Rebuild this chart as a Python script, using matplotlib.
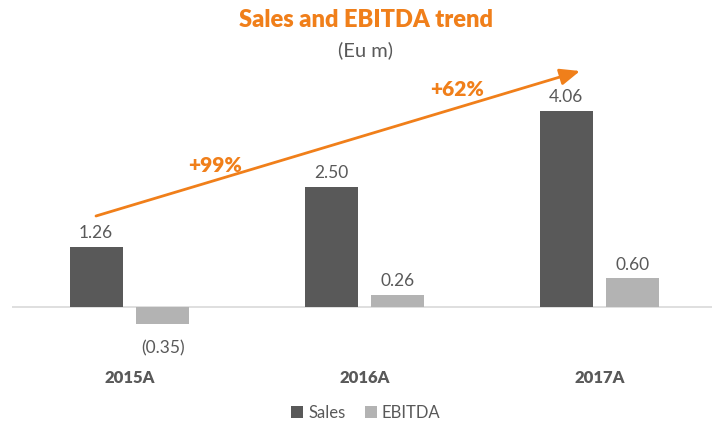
import matplotlib.pyplot as plt
import numpy as np

years = ["2015A", "2016A", "2017A"]
sales = [1.26, 2.50, 4.06]
ebitda = [-0.35, 0.26, 0.60]
growth_labels = ["+99%", "+62%"]

ORANGE = "#F07F1A"
DARK = "#595959"
LIGHT = "#B3B3B3"
TXT = "#595959"

plt.rcParams['font.family'] = ['Lato', 'DejaVu Sans']

fig = plt.figure(figsize=(7.12, 4.26), dpi=100)
# axes: x px 12..717, y px 90..340 (from top)
ax = fig.add_axes([12 / 712, (426 - 340) / 426, 705 / 712, 250 / 426])

x = np.arange(len(years))
w = 0.225
off = 0.142
b1 = ax.bar(x - off, sales, w, color=DARK)
b2 = ax.bar(x + off, ebitda, w, color=LIGHT)

ax.set_xlim(-0.5, 2.5)
ax.set_ylim(-0.673, 4.50)
ax.axhline(0, color="#D9D9D9", lw=1.2, zorder=0)
ax.axis("off")

for xi, v in zip(x - off, sales):
    ax.text(xi, v + 0.12, f"{v:.2f}", ha="center", va="bottom", fontsize=12.5, color=TXT)
for xi, v in zip(x + off, ebitda):
    if v < 0:
        ax.text(xi, v - 0.33, f"({abs(v):.2f})", ha="center", va="top", fontsize=12.5, color=TXT)
    else:
        ax.text(xi, v + 0.12, f"{v:.2f}", ha="center", va="bottom", fontsize=12.5, color=TXT)

for xi, lab in zip(x, years):
    ax.text(xi, -1.45, lab, ha="center", va="center", fontsize=12, fontweight="heavy", color=TXT)

fig.text(366, 426 - 20, "Sales and EBITDA trend", transform=None, ha="center", va="center",
         fontsize=17, fontweight="heavy", color=ORANGE)
fig.text(366, 426 - 50, "(Eu m)", transform=None, ha="center", va="center",
         fontsize=14.5, color=TXT)

ax.annotate("", xy=(580, 426 - 71), xytext=(96, 426 - 216),
            xycoords="figure pixels", textcoords="figure pixels",
            arrowprops=dict(arrowstyle="-|>,head_length=1.2,head_width=0.5",
                            color=ORANGE, lw=2, shrinkA=0, shrinkB=0))
fig.text(215, 426 - 165, growth_labels[0], transform=None, ha="center", va="center",
         fontsize=15, fontweight="heavy", color=ORANGE)
fig.text(457, 426 - 90, growth_labels[1], transform=None, ha="center", va="center",
         fontsize=15, fontweight="heavy", color=ORANGE)

leg = fig.legend([b1, b2], ["Sales", "EBITDA"], loc="center", bbox_to_anchor=(366 / 712, 1 - 413 / 426),
                 ncol=2, frameon=False, fontsize=12, handlelength=0.7, handleheight=0.7,
                 handletextpad=0.3, columnspacing=1.2)
for t in leg.get_texts():
    t.set_color(TXT)

fig.savefig("out.png", dpi=100)
